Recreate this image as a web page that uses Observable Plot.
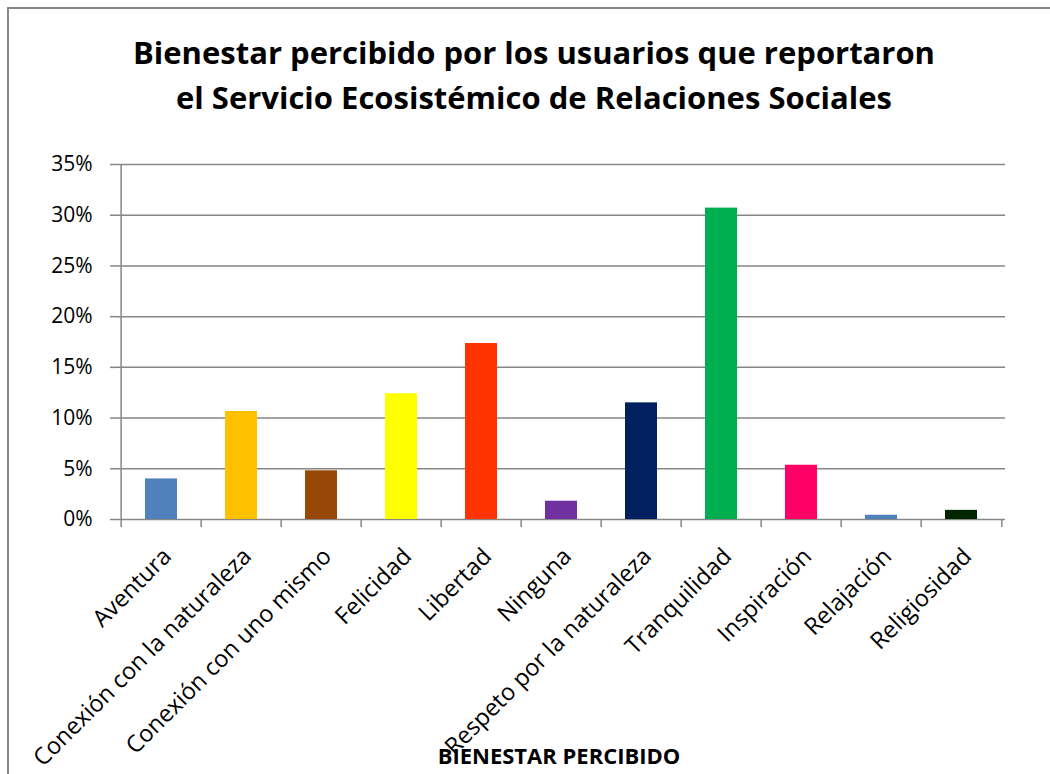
<!DOCTYPE html>
<html>
<head>
<meta charset="utf-8">
<script src="https://cdn.jsdelivr.net/npm/d3@7"></script>
<script src="https://cdn.jsdelivr.net/npm/@observablehq/plot@0.6"></script>
<style>
  html, body { margin: 0; padding: 0; background: #fff; }
  #wrap { position: relative; width: 1050px; height: 774px; overflow: hidden; background: #fff; font-family: "Open Sans", sans-serif; }
  #frame { position: absolute; left: 7px; top: 7px; width: 1200px; height: 900px; border: 2px solid #878787; box-sizing: border-box; }
  #title { position: absolute; left: 0; top: 30px; width: 1068px; text-align: center; font-weight: bold; font-size: 31px; line-height: 45px; color: #000; }
  #chart { position: absolute; left: 0; top: 0; }
</style>
</head>
<body>
<div id="wrap">
  <div id="frame"></div>
  <div id="title">Bienestar percibido por los usuarios que reportaron<br>el Servicio Ecosistémico de Relaciones Sociales</div>
  <div id="chart"></div>
</div>
<script>
const categories = ["Aventura", "Conexión con la naturaleza", "Conexión con uno mismo", "Felicidad", "Libertad", "Ninguna", "Respeto por la naturaleza", "Tranquilidad", "Inspiración", "Relajación", "Religiosidad"];
const values = [0.040, 0.1065, 0.048, 0.124, 0.1735, 0.018, 0.115, 0.307, 0.0535, 0.0042, 0.009];
const barColors = ["#4F81BD", "#FFC000", "#974706", "#FFFF00", "#FF3300", "#7030A0", "#002060", "#00B050", "#FF0066", "#4F81BD", "#002600"];
const yTicks = [0, 0.05, 0.10, 0.15, 0.20, 0.25, 0.30, 0.35];
const xTitle = "BIENESTAR PERCIBIDO";

const data = categories.map((c, i) => ({cat: c, value: values[i], color: barColors[i]}));

const W = 1050, H = 774;
const mL = 117, mR = 45, mT = 164, mB = 255;
const step = (W - mL - mR) / categories.length;
const grid = "#868686";

const chart = Plot.plot({
  width: W,
  height: H,
  marginLeft: mL,
  marginRight: mR,
  marginTop: mT,
  marginBottom: mB,
  style: {fontFamily: "'Open Sans', sans-serif", background: "transparent", color: "#000"},
  x: {domain: categories, paddingInner: 0.6, paddingOuter: 0.3, axis: null},
  y: {domain: [0, 0.35], axis: null},
  color: {type: "identity"},
  marks: [
    Plot.gridY(yTicks, {stroke: grid, strokeOpacity: 1, strokeWidth: 1.5}),
    Plot.axisY({ticks: yTicks, tickFormat: d3.format(".0%"), tickSize: 7, tickPadding: 18, fontSize: 21, stroke: grid, strokeWidth: 1.5, fill: "#000", label: null}),
    Plot.ruleX([categories[0]], {x: d => d, y1: 0, y2: 0.35, dx: -step / 2, stroke: grid, strokeWidth: 1.5}),
    Plot.ruleX(categories, {x: d => d, y1: 0, y2: -0.0079, dx: -step / 2, stroke: grid, strokeWidth: 1.5}),
    Plot.ruleX([categories[categories.length - 1]], {x: d => d, y1: 0, y2: -0.0079, dx: step / 2, stroke: grid, strokeWidth: 1.5}),
    Plot.barY(data, {x: "cat", y: "value", fill: "color"}),
    Plot.text(data, {x: "cat", y: 0, text: "cat", rotate: -45, textAnchor: "end", lineAnchor: "middle", dx: 6, dy: 33, fontSize: 23.5, fill: "#000"}),
    Plot.text([xTitle], {frameAnchor: "bottom", text: d => d, dx: -2.5, dy: 244, fontSize: 22, fontWeight: "bold", fill: "#000"})
  ]
});
document.getElementById("chart").appendChild(chart);
</script>
</body>
</html>
